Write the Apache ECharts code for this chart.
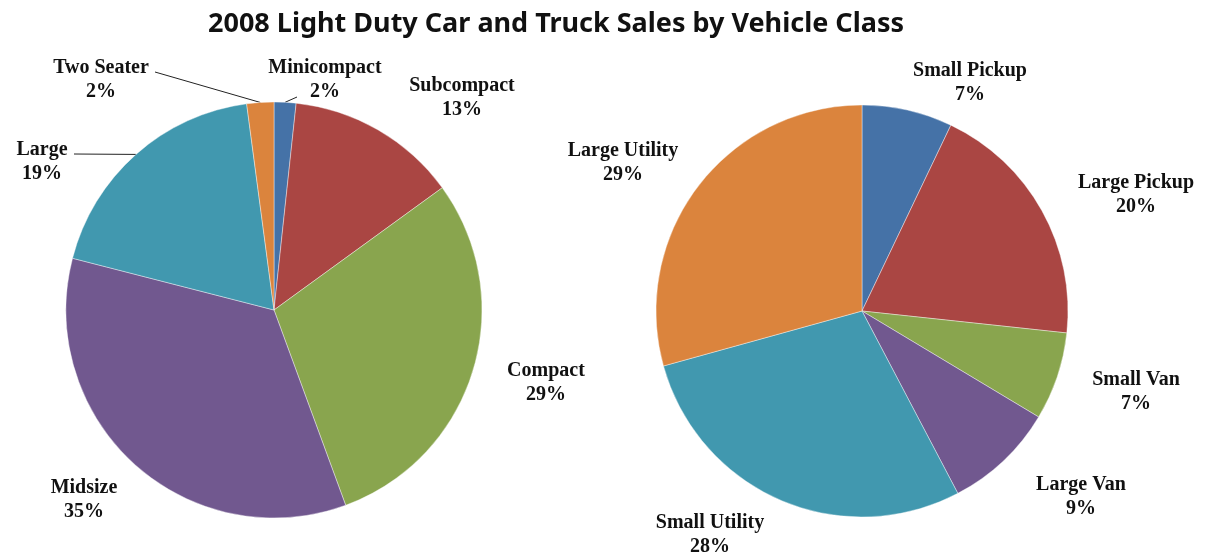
<!DOCTYPE html>
<html>
<head>
<meta charset="utf-8">
<script src="https://cdn.jsdelivr.net/npm/echarts@6/dist/echarts.min.js"></script>
<style>
  html, body { margin: 0; padding: 0; background: #fff; }
  #chart { width: 1205px; height: 559px; }
</style>
</head>
<body>
<div id="chart"></div>
<script>
// cars (left pie)
const carClasses = ['Minicompact', 'Subcompact', 'Compact', 'Midsize', 'Large', 'Two Seater']
const carShares = [1.7, 13.3, 29.4, 34.6, 18.9, 2.1]
// trucks (right pie)
const truckClasses = ['Small Pickup', 'Large Pickup', 'Small Van', 'Large Van', 'Small Utility', 'Large Utility']
const truckShares = [7.1, 19.6, 6.9, 8.7, 28.4, 29.3]

const colors = ['#4572A7', '#AA4643', '#89A54E', '#71588F', '#4198AF', '#DB843D']

// label placement (centre of each label block), per pie
const labelPos = [
  [[325, 80], [462, 98], [546, 383], [84, 500], [42, 162], [101, 80]],
  [[970, 83], [1136, 195], [1136, 392], [1081, 497], [710, 535], [623, 163]]
]
// leader line end points, only for the labels that have one
const lineEnds = [
  [[297, 97], null, null, null, [74, 154], [155, 72]],
  [null, null, null, null, null, null]
]

function buildData(names, values, seriesIdx) {
  return names.map(function (n, i) {
    return {
      name: n,
      value: values[i],
      labelLine: { show: !!lineEnds[seriesIdx][i] }
    }
  })
}

const labelStyle = {
  show: true,
  position: 'outside',
  fontFamily: 'Liberation Serif',
  fontWeight: 'bold',
  fontSize: 20,
  lineHeight: 24,
  color: '#111',
  formatter: function (p) {
    return p.name + '\n' + Math.round(p.percent) + '%'
  }
}

function makeSeries(idx, names, values, center, radius) {
  return {
    type: 'pie',
    center: center,
    radius: radius,
    startAngle: 90,
    clockwise: true,
    avoidLabelOverlap: false,
    animation: false,
    itemStyle: { borderColor: '#ffffff', borderWidth: 0.4 },
    label: labelStyle,
    labelLine: { lineStyle: { color: '#222', width: 1 } },
    labelLayout: function (params) {
      const p = labelPos[idx][params.dataIndex]
      const out = { x: p[0], y: p[1], align: 'center', verticalAlign: 'middle' }
      const end = lineEnds[idx][params.dataIndex]
      if (end && params.labelLinePoints) {
        out.labelLinePoints = [params.labelLinePoints[0], end]
      }
      return out
    },
    emphasis: { disabled: true },
    data: buildData(names, values, idx)
  }
}

const chart = echarts.init(document.getElementById('chart'))
chart.setOption({
  color: colors,
  title: {
    text: '2008 Light Duty Car and Truck Sales by Vehicle Class',
    left: 551,
    top: 6,
    textAlign: 'center',
    textStyle: {
      fontFamily: 'Noto Sans',
      fontWeight: 'bold',
      fontSize: 27,
      color: '#111'
    }
  },
  series: [
    makeSeries(0, carClasses, carShares, [274, 310], 208),
    makeSeries(1, truckClasses, truckShares, [862, 311], 206)
  ]
})
</script>
</body>
</html>
